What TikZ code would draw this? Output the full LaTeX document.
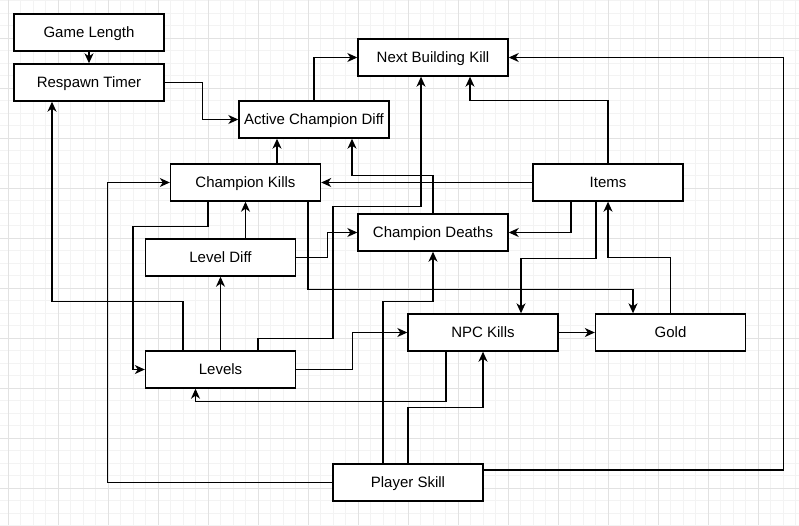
\documentclass[tikz,border=0pt]{standalone}
\usepackage{fontspec}
\setmainfont{Liberation Sans}
\usetikzlibrary{arrows.meta,calc}
\begin{document}
\begin{tikzpicture}[x=1pt,y=-1pt,
  box/.style={draw=black,fill=white,line width=1.4pt,minimum width=150pt,minimum height=37pt,inner sep=0pt,text height=10.8pt,text depth=0pt,font=\fontsize{15}{18}\selectfont},
  arr/.style={draw=black,line width=1.3pt,-{Stealth[length=10pt,width=9pt,inset=3pt]}},
  minorgrid/.style={draw={rgb,255:red,243;green,243;blue,243},line width=0.8pt},
  majorgrid/.style={draw={rgb,255:red,226;green,226;blue,226},line width=0.9pt}]
\useasboundingbox (0,0) rectangle (799,525);
\fill[white] (0,0) rectangle (799,525);
% grid
\foreach \i in {0,...,64} {\draw[minorgrid] ({8+12.5*(\i-1)},0) -- ++(0,525);}
\foreach \i in {0,...,42} {\draw[minorgrid] (0,{0.5+12.5*\i}) -- ++(799,0);}
\foreach \i in {0,...,16} {\draw[majorgrid] ({8+50*\i},0) -- ++(0,525);}
\foreach \i in {0,...,10} {\draw[majorgrid] (0,{38+50*\i}) -- ++(799,0);}
% nodes
\node[box] (gl) at (89,32.5) {Game Length};
\node[box] (rt) at (89,82.5) {Respawn Timer};
\node[box] (acd) at (314,119.5) {Active Champion Diff};
\node[box] (nbk) at (433,57.5) {Next Building Kill};
\node[box] (ck) at (245.5,182.5) {Champion Kills};
\node[box] (items) at (608,182.5) {Items};
\node[box] (cd) at (433,232.5) {Champion Deaths};
\node[box] (ld) at (220.5,257.5) {Level Diff};
\node[box] (npc) at (483,332.5) {NPC Kills};
\node[box] (gold) at (670.5,332.5) {Gold};
\node[box] (lv) at (220.5,369.5) {Levels};
\node[box] (ps) at (408,482.5) {Player Skill};
% connectors
\draw[arr] (gl) -- (rt);
\draw[arr] (rt.east) -- ++(38,0) |- (acd.west);
\draw[arr] (acd.north) |- (nbk.west);
\draw[arr] ($(ck.north)+(31.5,0)$) -- ($(acd.south)+(-37,0)$);
\draw[arr] (cd.north) -- ++(0,-38) -| ($(acd.south)+(38,0)$);
\draw[arr] (items.west) -- (ck.east);
\draw[arr] (items.north) -- ++(0,-63) -| ($(nbk.south)+(37,0)$);
\draw[arr] ($(ps.east)+(0,-12.5)$) -- ++(300,0) |- (nbk.east);
\draw[arr] ($(items.south)+(-37,0)$) |- (cd.east);
\draw[arr] ($(items.south)+(-12,0)$) -- ++(0,57) -| ($(npc.north)+(38,0)$);
\draw[arr] (gold.north) -- ++(0,-56) -| (items.south);
\draw[arr] ($(ck.south)+(62.5,0)$) -- ++(0,88) -| ($(gold.north)+(-37.5,0)$);
\draw[arr] ($(ck.south)+(-37.5,0)$) -- ++(0,25) -- ++(-75,0) |- (lv.west);
\draw[arr] (ps.west) -- ++(-225,0) |- (ck.west);
\draw[arr] ($(lv.north)+(-37.5,0)$) -- ++(0,-49) -| ($(rt.south)+(-37,0)$);
\draw[arr] (lv.north) -- (ld.south);
\draw[arr] ($(ld.north)+(25,0)$) -- (ck.south);
\draw[arr] (ld.east) -- ++(31,0) |- (cd.west);
\draw[arr] ($(lv.north)+(37.5,0)$) -- ++(0,-12) -- ++(75,0) -- ++(0,-132) -| ($(nbk.south)+(-12,0)$);
\draw[arr] (lv.east) -- ++(56,0) |- (npc.west);
\draw[arr] ($(npc.south)+(-37,0)$) -- ++(0,50) -| ($(lv.south)+(-25,0)$);
\draw[arr] ($(ps.north)+(-25,0)$) -- ++(0,-162) -| (cd.south);
\draw[arr] (ps.north) -- ++(0,-56) -| (npc.south);
\draw[arr] (npc.east) -- (gold.west);
\end{tikzpicture}
\end{document}
